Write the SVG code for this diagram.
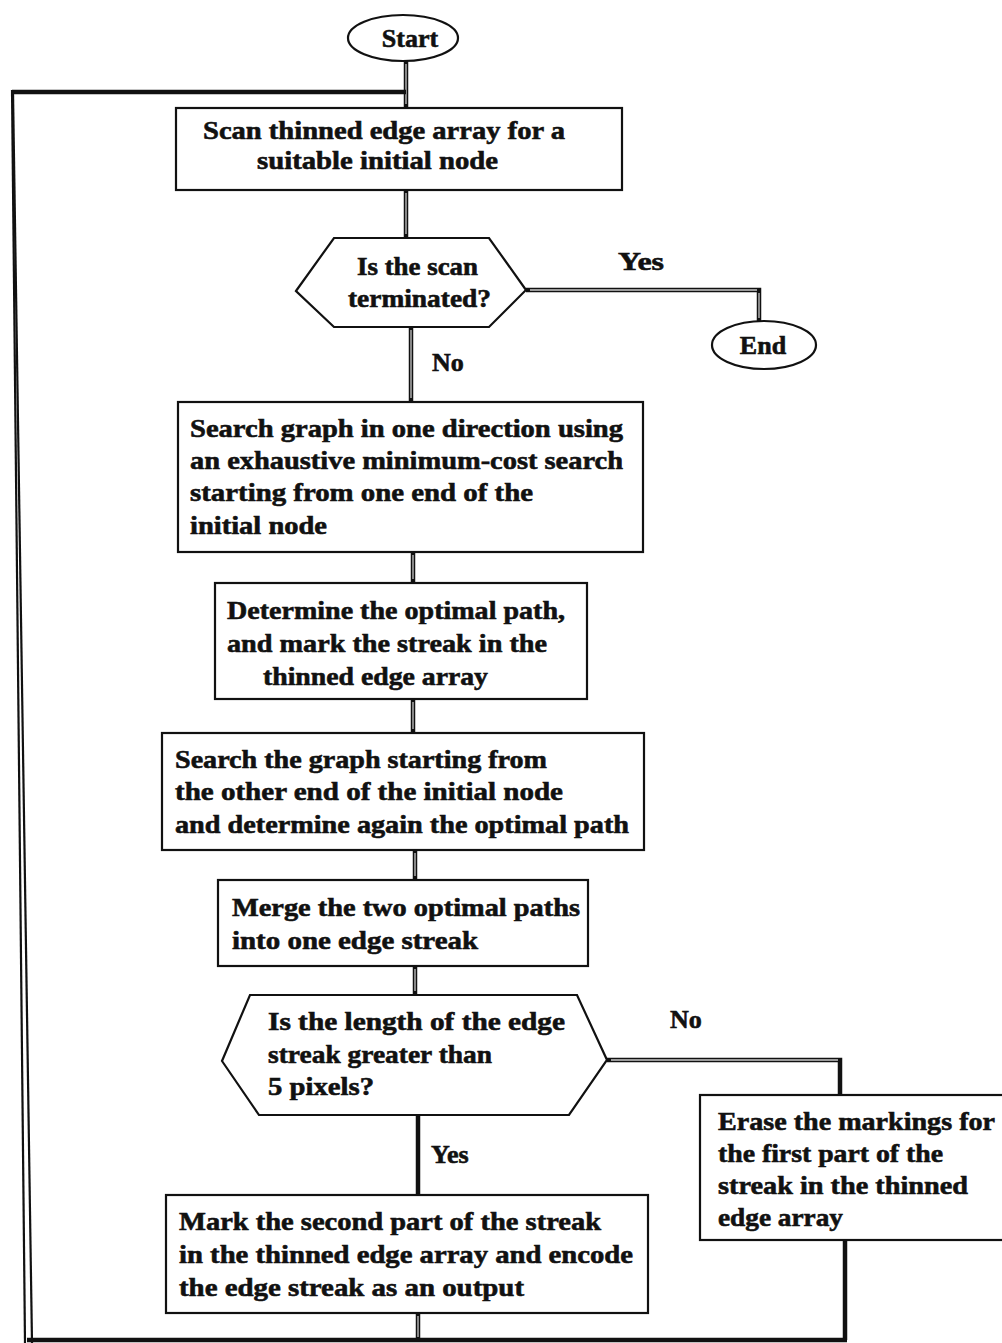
<svg xmlns="http://www.w3.org/2000/svg" width="1002" height="1343" viewBox="0 0 1002 1343">
<style>
.bg{fill:#ffffff}
.box{fill:#ffffff;stroke:#111;stroke-width:2.2}
.t{font-family:"Liberation Serif","Times New Roman",serif;font-weight:bold;font-size:26px;fill:#111;stroke:#111;stroke-width:0.6}
.lbl{font-family:"Liberation Serif","Times New Roman",serif;font-weight:bold;font-size:26px;fill:#111;stroke:#111;stroke-width:0.6}
.c-out{fill:none;stroke:#111;stroke-width:4.5;stroke-linejoin:miter}
.c-in{fill:none;stroke:#c8c8c8;stroke-width:1.3}
.thin{fill:none;stroke:#111;stroke-width:2.2}
</style>
<rect class="bg" x="0" y="0" width="1002" height="1343"/>

<g id="connectors">
  <path class="c-out" d="M406,61 V108"/>
  <path class="c-in" d="M406,64 V104"/>
  <path class="c-out" d="M12,92 H406"/>
  <path class="c-out" d="M406,190 V238"/>
  <path class="c-in" d="M406,193 V234"/>
  <path class="c-out" d="M526,290 H759 V321"/>
  <path class="c-in" d="M530,290 H757 M759,293 V318"/>
  <path class="c-out" d="M411,327 V402"/>
  <path class="c-in" d="M411,330 V398"/>
  <path class="c-out" d="M413,552 V583"/>
  <path class="c-in" d="M413,555 V579"/>
  <path class="c-out" d="M413,699 V733"/>
  <path class="c-in" d="M413,702 V729"/>
  <path class="c-out" d="M415,850 V880"/>
  <path class="c-in" d="M415,853 V876"/>
  <path class="c-out" d="M415,966 V995"/>
  <path class="c-in" d="M415,969 V991"/>
  <path class="c-out" d="M607,1060 H840 V1095"/>
  <path class="c-in" d="M611,1060 H838"/>
  <path class="c-out" d="M418,1115 V1195"/>
  <path class="c-out" d="M418,1313 V1340"/>
  <path class="c-in" d="M418,1316 V1337"/>
  <path class="c-out" d="M845,1240 V1340"/>
  <path class="c-out" d="M27,1340 H847"/>
  <path class="thin" d="M12,90 L25,1343"/>
  <path class="thin" d="M13,92 L32,1343"/>
</g>

<g id="start">
  <ellipse class="box" cx="403" cy="38" rx="55" ry="23"/>
  <text class="t" x="410" y="47" text-anchor="middle">Start</text>
</g>

<g id="scan">
  <rect class="box" x="176" y="108" width="446" height="82"/>
  <text class="t" x="203" y="139" textLength="362" lengthAdjust="spacingAndGlyphs">Scan thinned edge array for a</text>
  <text class="t" x="257" y="169" textLength="241" lengthAdjust="spacingAndGlyphs">suitable initial node</text>
</g>

<g id="scan-terminated">
  <polygon class="box" points="296,291 334,238 489,238 526,290 489,327 334,327"/>
  <text class="t" x="357" y="275" textLength="121" lengthAdjust="spacingAndGlyphs">Is the scan</text>
  <text class="t" x="348" y="307" textLength="143" lengthAdjust="spacingAndGlyphs">terminated?</text>
</g>

<g id="label-yes-1">
  <text class="lbl" x="618" y="270" textLength="46" lengthAdjust="spacingAndGlyphs">Yes</text>
</g>
<g id="label-no-1">
  <text class="lbl" x="432" y="371">No</text>
</g>

<g id="end">
  <ellipse class="box" cx="764" cy="345" rx="52" ry="24"/>
  <text class="t" x="763" y="354" text-anchor="middle">End</text>
</g>

<g id="search-one">
  <rect class="box" x="178" y="402" width="465" height="150"/>
  <text class="t" x="190" y="437" textLength="433" lengthAdjust="spacingAndGlyphs">Search graph in one direction using</text>
  <text class="t" x="190" y="469" textLength="433" lengthAdjust="spacingAndGlyphs">an exhaustive minimum-cost search</text>
  <text class="t" x="190" y="501" textLength="343" lengthAdjust="spacingAndGlyphs">starting from one end of the</text>
  <text class="t" x="190" y="534" textLength="137" lengthAdjust="spacingAndGlyphs">initial node</text>
</g>

<g id="determine">
  <rect class="box" x="215" y="583" width="372" height="116"/>
  <text class="t" x="227" y="619" textLength="338" lengthAdjust="spacingAndGlyphs">Determine the optimal path,</text>
  <text class="t" x="227" y="652" textLength="320" lengthAdjust="spacingAndGlyphs">and mark the streak in the</text>
  <text class="t" x="263" y="685" textLength="225" lengthAdjust="spacingAndGlyphs">thinned edge array</text>
</g>

<g id="search-other">
  <rect class="box" x="162" y="733" width="482" height="117"/>
  <text class="t" x="175" y="768" textLength="372" lengthAdjust="spacingAndGlyphs">Search the graph starting from</text>
  <text class="t" x="175" y="800" textLength="388" lengthAdjust="spacingAndGlyphs">the other end of the initial node</text>
  <text class="t" x="175" y="833" textLength="454" lengthAdjust="spacingAndGlyphs">and determine again the optimal path</text>
</g>

<g id="merge">
  <rect class="box" x="218" y="880" width="370" height="86"/>
  <text class="t" x="232" y="916" textLength="348" lengthAdjust="spacingAndGlyphs">Merge the two optimal paths</text>
  <text class="t" x="232" y="949" textLength="246" lengthAdjust="spacingAndGlyphs">into one edge streak</text>
</g>

<g id="length-check">
  <polygon class="box" points="222,1061 250,995 577,995 607,1060 569,1115 259,1115"/>
  <text class="t" x="268" y="1030" textLength="297" lengthAdjust="spacingAndGlyphs">Is the length of the edge</text>
  <text class="t" x="268" y="1063" textLength="224" lengthAdjust="spacingAndGlyphs">streak greater than</text>
  <text class="t" x="268" y="1095" textLength="106" lengthAdjust="spacingAndGlyphs">5 pixels?</text>
</g>

<g id="label-no-2">
  <text class="lbl" x="670" y="1028">No</text>
</g>
<g id="label-yes-2">
  <text class="lbl" x="431" y="1163">Yes</text>
</g>

<g id="mark-second">
  <rect class="box" x="166" y="1195" width="482" height="118"/>
  <text class="t" x="179" y="1230" textLength="422" lengthAdjust="spacingAndGlyphs">Mark the second part of the streak</text>
  <text class="t" x="179" y="1263" textLength="454" lengthAdjust="spacingAndGlyphs">in the thinned edge array and encode</text>
  <text class="t" x="179" y="1296" textLength="345" lengthAdjust="spacingAndGlyphs">the edge streak as an output</text>
</g>

<g id="erase">
  <rect class="box" x="700" y="1095" width="320" height="145"/>
  <text class="t" x="718" y="1130" textLength="277" lengthAdjust="spacingAndGlyphs">Erase the markings for</text>
  <text class="t" x="718" y="1162" textLength="225" lengthAdjust="spacingAndGlyphs">the first part of the</text>
  <text class="t" x="718" y="1194" textLength="250" lengthAdjust="spacingAndGlyphs">streak in the thinned</text>
  <text class="t" x="718" y="1226" textLength="125" lengthAdjust="spacingAndGlyphs">edge array</text>
</g>
</svg>
